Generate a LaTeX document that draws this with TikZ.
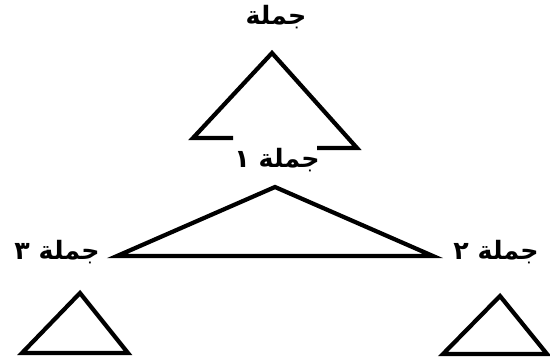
\documentclass[tikz,border=0pt]{standalone}
\usepackage{fontspec}
\newfontfamily\arabicfont[Script=Arabic]{DejaVu Sans}
\TeXXeTstate=1
\usetikzlibrary{positioning}
\tikzset{
	lbl/.style={font=\arabicfont\bfseries\Large, inner sep=1pt},
	roof/.style={line width=2.4pt, line join=miter},
}
\begin{document}
\begin{tikzpicture}[x=0.02cm, y=-0.02cm]
	\useasboundingbox (0,0) rectangle (550,360);
	\node[lbl] (s) at (276,17) {\beginR جملة\endR};
	\node[lbl] (s1) at (277,160) {\beginR جملة ١\endR};
	\node[lbl] (s3) at (57,252) {\beginR جملة ٣\endR};
	\node[lbl] (s2) at (496,252) {\beginR جملة ٢\endR};
	
	\coordinate (s-top) at (272,53);
	\coordinate (s1-top) at (275,187);
	\coordinate (s3-top) at (80,293);
	\coordinate (s2-top) at (500,296);
	
	\draw[roof] (233,138) -- (193,138) -- (s-top) -- (357,148) -- (317,148);
	\draw[roof] (117,256) -- (s1-top) -- (433,256) -- cycle;
	\draw[roof] (22,353) -- (s3-top) -- (128,353) -- cycle;
	\draw[roof] (443,354) -- (s2-top) -- (547,354) -- cycle;
\end{tikzpicture}
\end{document}
